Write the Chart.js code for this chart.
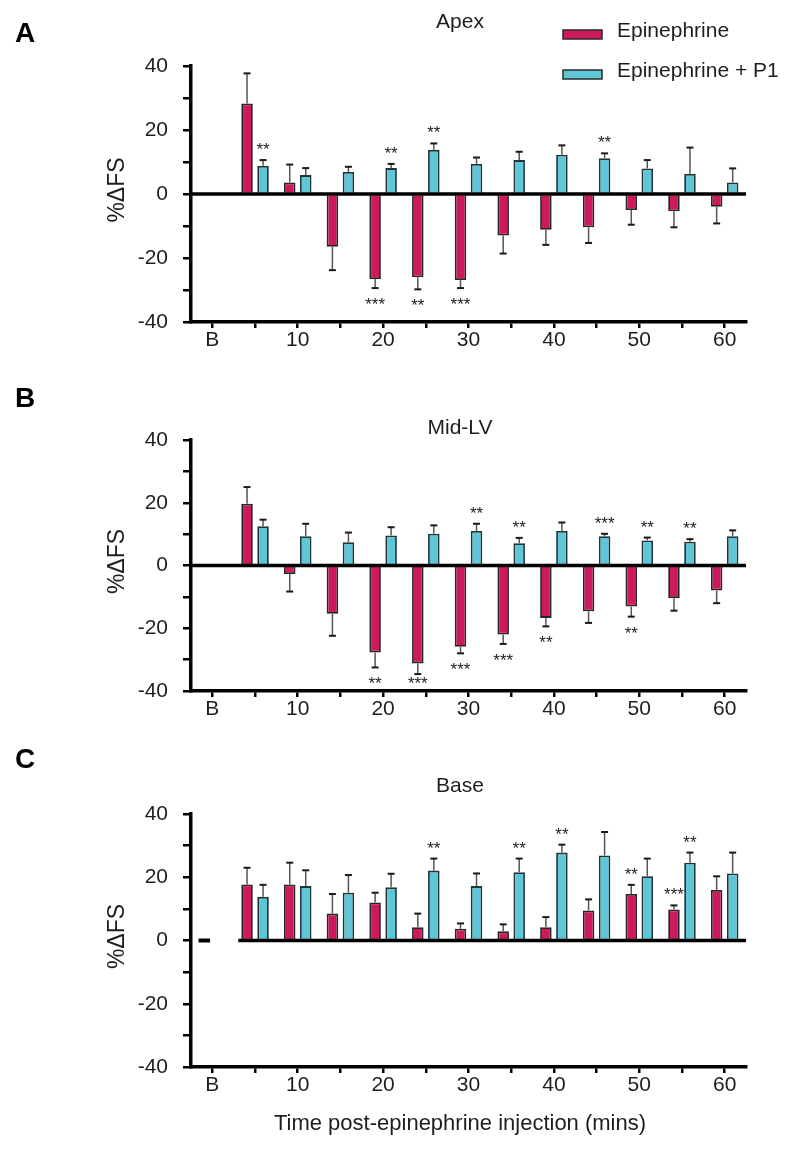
<!DOCTYPE html>
<html><head><meta charset="utf-8">
<script src="https://cdn.jsdelivr.net/npm/chart.js@4.4.1/dist/chart.umd.min.js"></script>
<style>
html,body{margin:0;padding:0;background:#fff;width:800px;height:1153px;overflow:hidden;}
canvas{position:absolute;left:0;}
</style></head><body>
<canvas id="cA" width="800" height="360" style="top:0px"></canvas>
<canvas id="cB" width="800" height="360" style="top:370px"></canvas>
<canvas id="cC" width="800" height="413" style="top:740px"></canvas>
<script>
// ---- data ----
const categories = ['B','5','10','15','20','25','30','35','40','45','50','55','60'];
const seriesNames = ['Epinephrine', 'Epinephrine + P1'];
const yTickValues = [-40, -20, 0, 20, 40];

// Panel A: Apex
const apexEpi    = [null, 28.3, 3.6, -16.5, -26.6, -26.0, -26.9, -13.0, -11.2, -10.4, -5.0, -5.4, -4.0];
const apexEpiErr = [null, 9.4, 5.6, 7.3, 2.8, 3.8, 2.5, 5.6, 4.7, 4.9, 4.6, 5.0, 5.2];
const apexP1     = [null, 8.8, 5.9, 6.9, 8.1, 13.8, 9.4, 10.6, 12.3, 11.2, 8.0, 6.3, 3.6];
const apexP1Err  = [null, 1.8, 2.2, 1.6, 1.3, 2.0, 2.0, 2.6, 2.9, 1.5, 2.6, 8.2, 4.4];
const apexEpiSig = ['', '', '', '', '***', '**', '***', '', '', '', '', '', ''];
const apexP1Sig  = ['', '**', '', '', '**', '**', '', '', '', '**', '', '', ''];

// Panel B: Mid-LV
const midEpi    = [null, 19.7, -2.7, -15.4, -27.7, -31.2, -25.9, -22.0, -16.7, -14.6, -13.1, -10.4, -8.0];
const midEpiErr = [null, 5.3, 5.6, 7.0, 4.8, 3.4, 2.1, 3.0, 2.7, 3.7, 3.2, 4.0, 4.0];
const midP1     = [null, 12.5, 9.3, 7.4, 9.6, 10.1, 11.0, 7.1, 11.0, 9.3, 8.0, 7.6, 9.3];
const midP1Err  = [null, 2.1, 4.0, 3.1, 2.6, 2.7, 2.3, 1.7, 2.7, 0.8, 0.9, 0.8, 1.9];
const midEpiSig = ['', '', '', '', '**', '***', '***', '***', '**', '', '**', '', ''];
const midP1Sig  = ['', '', '', '', '', '', '**', '**', '', '***', '**', '**', ''];

// Panel C: Base
const baseEpi    = [0, 17.7, 17.7, 8.5, 12.0, 4.2, 3.7, 2.9, 4.2, 9.5, 14.7, 9.8, 16.0];
const baseEpiErr = [null, 5.3, 6.9, 6.2, 3.1, 4.3, 1.7, 2.2, 3.2, 3.5, 2.9, 1.3, 4.3];
const baseP1     = [null, 13.8, 17.2, 15.1, 16.8, 22.1, 17.2, 21.6, 27.8, 26.9, 20.3, 24.6, 21.2];
const baseP1Err  = [null, 3.8, 5.0, 5.6, 4.3, 3.8, 4.0, 4.3, 2.5, 7.4, 5.6, 3.2, 6.6];
const baseEpiSig = ['', '', '', '', '', '', '', '', '', '', '**', '***', ''];
const baseP1Sig  = ['', '', '', '', '', '**', '', '**', '**', '', '', '**', ''];

// ---- style ----
const FONT = "'Liberation Sans', Arial, sans-serif";
const RED = '#cd1a5c';
const CYAN = '#5ec6d6';
const TXT = '#1e1e1e';

const decor = {
  id: 'decor',
  afterDatasetsDraw(chart, args, o) {
    const ctx = chart.ctx, ys = chart.scales.y, ca = chart.chartArea;
    const y0 = ys.getPixelForValue(0);
    ctx.save();
    o.errors.forEach((errs, di) => {
      const meta = chart.getDatasetMeta(di);
      const vals = chart.data.datasets[di].data;
      meta.data.forEach((bar, i) => {
        const v = vals[i];
        if (v == null) return;
        if (v === 0) {
          ctx.strokeStyle = '#000'; ctx.lineWidth = 4;
          ctx.beginPath(); ctx.moveTo(bar.x - bar.width/2, y0); ctx.lineTo(bar.x + bar.width/2, y0); ctx.stroke();
          return;
        }
        const e = errs[i];
        if (e == null) return;
        const end = v >= 0 ? v + e : v - e;
        const yEnd = ys.getPixelForValue(end), yStart = ys.getPixelForValue(v);
        ctx.strokeStyle = '#555'; ctx.lineWidth = 1.5;
        ctx.beginPath(); ctx.moveTo(bar.x, yStart); ctx.lineTo(bar.x, yEnd); ctx.stroke();
        ctx.strokeStyle = '#1a1a1a'; ctx.lineWidth = 2;
        ctx.beginPath(); ctx.moveTo(bar.x - 3.5, yEnd); ctx.lineTo(bar.x + 3.5, yEnd); ctx.stroke();
        const s = o.sigs[di][i];
        if (s) {
          let yc = v >= 0 ? yEnd - 15 : yEnd + 12;
          if (yc > ca.bottom - 12) yc = ca.bottom - 12;
          ctx.fillStyle = '#222'; ctx.font = '17px ' + FONT;
          ctx.textAlign = 'center'; ctx.textBaseline = 'alphabetic';
          ctx.fillText(s, bar.x, yc + 10);
        }
      });
    });
    // zero line
    let xs = ca.left;
    if (o.zeroFrom != null) {
      const b = chart.getDatasetMeta(0).data[o.zeroFrom];
      xs = b.x - b.width / 2 - 3;
    }
    ctx.strokeStyle = '#000'; ctx.lineWidth = 3.5;
    ctx.beginPath(); ctx.moveTo(xs, y0); ctx.lineTo(ca.right, y0); ctx.stroke();
    ctx.restore();
  },
  afterDraw(chart, args, o) {
    const ctx = chart.ctx, ca = chart.chartArea;
    ctx.save();
    ctx.fillStyle = '#000';
    ctx.font = 'bold 28px ' + FONT;
    ctx.textAlign = 'left'; ctx.textBaseline = 'alphabetic';
    ctx.fillText(o.letter, 15, o.letterY);
    ctx.fillStyle = TXT;
    ctx.font = '21px ' + FONT;
    ctx.textAlign = 'center'; ctx.textBaseline = 'middle';
    ctx.fillText(o.title, 460, o.titleY);
    // y title
    ctx.save();
    ctx.translate(118, (ca.top + ca.bottom) / 2 - 4);
    ctx.rotate(-Math.PI / 2);
    ctx.font = '23px ' + FONT;
    ctx.fillText('%ΔFS', 0, 0);
    ctx.restore();
    if (o.xTitle) {
      ctx.font = '22px ' + FONT;
      ctx.fillText(o.xTitle, 460, o.xTitleY);
    }
    if (o.legend) {
      chart.data.datasets.forEach((ds, i) => {
        const by = [37, 77][i];
        ctx.fillStyle = ds.backgroundColor;
        ctx.fillRect(563, by - 7, 39, 9);
        ctx.strokeStyle = '#2a2a2a'; ctx.lineWidth = 1.5;
        ctx.strokeRect(563, by - 7, 39, 9);
        ctx.fillStyle = TXT;
        ctx.font = '21px ' + FONT;
        ctx.textAlign = 'left'; ctx.textBaseline = 'alphabetic';
        ctx.fillText(ds.label, 617, by);
      });
    }
    ctx.restore();
  }
};

function makeChart(id, epi, p1, deco, pad) {
  return new Chart(document.getElementById(id), {
    type: 'bar',
    data: {
      labels: categories,
      datasets: [
        { label: seriesNames[0], data: epi, backgroundColor: RED, borderColor: '#262626', borderWidth: 1.8,
          categoryPercentage: 0.75, barPercentage: 0.72 },
        { label: seriesNames[1], data: p1, backgroundColor: CYAN, borderColor: '#1f3436', borderWidth: 1.8,
          categoryPercentage: 0.75, barPercentage: 0.72 }
      ]
    },
    options: {
      responsive: false,
      animation: false,
      devicePixelRatio: 1,
      layout: { padding: { left: 0, right: 54, top: pad.top, bottom: pad.bottom } },
      plugins: { legend: { display: false }, tooltip: { enabled: false }, title: { display: false }, decor: deco },
      scales: {
        x: {
          type: 'category',
          offset: true,
          afterFit: s => { s.height = 28; },
          grid: { display: true, drawOnChartArea: false, drawTicks: true, tickLength: 6, lineWidth: 2.5, color: '#000', offset: false },
          border: { display: true, color: '#000', width: 3.5 },
          ticks: { autoSkip: false, maxRotation: 0, padding: 0, color: TXT, font: { family: FONT, size: 21 },
            callback: (v, i) => (i % 2 === 0 ? categories[i] : '') }
        },
        y: {
          min: -40, max: 40,
          afterFit: s => { s.width = 191; },
          grid: { display: true, drawOnChartArea: false, drawTicks: true, tickLength: 8, lineWidth: 2.5, color: '#000' },
          border: { display: true, color: '#000', width: 3.5 },
          ticks: { stepSize: 10, padding: 15, color: TXT, font: { family: FONT, size: 21 },
            callback: v => (yTickValues.includes(v) ? String(v) : '') }
        }
      }
    },
    plugins: [decor]
  });
}

makeChart('cA', apexEpi, apexP1,
  { letter: 'A', letterY: 42, title: 'Apex', titleY: 22, legend: true,
    errors: [apexEpiErr, apexP1Err], sigs: [apexEpiSig, apexP1Sig] },
  { top: 66, bottom: 10 });
makeChart('cB', midEpi, midP1,
  { letter: 'B', letterY: 37, title: 'Mid-LV', titleY: 58,
    errors: [midEpiErr, midP1Err], sigs: [midEpiSig, midP1Sig] },
  { top: 70, bottom: 11 });
makeChart('cC', baseEpi, baseP1,
  { letter: 'C', letterY: 28, title: 'Base', titleY: 46, zeroFrom: 1,
    xTitle: 'Time post-epinephrine injection (mins)', xTitleY: 384,
    errors: [baseEpiErr, baseP1Err], sigs: [baseEpiSig, baseP1Sig] },
  { top: 74, bottom: 58 });
</script>
</body></html>
